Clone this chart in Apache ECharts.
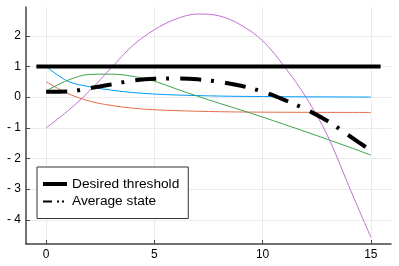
<!DOCTYPE html>
<html>
<head>
<meta charset="utf-8">
<script src="https://cdn.jsdelivr.net/npm/echarts@6/dist/echarts.min.js"></script>
<style>html,body{margin:0;padding:0;background:#fff}#c{width:399px;height:266px}</style>
</head>
<body>
<div id="c"></div>
<script>
var xs = [0,1,2,3,4,5,6,7,8,9,10,11,12,13,14,15];
var blue = [1, 0.52, 0.34, 0.23, 0.15, 0.1, 0.07, 0.05, 0.035, 0.025, 0.02, 0.015, 0.01, 0.008, 0.005, 0.003];
var orange = [0.5, 0.12, -0.13, -0.27, -0.36, -0.41, -0.44, -0.46, -0.475, -0.485, -0.49, -0.493, -0.495, -0.497, -0.498, -0.5];
var green = [0.2, 0.55, 0.74, 0.75, 0.68, 0.52, 0.27, 0.03, -0.2, -0.42, -0.65, -0.89, -1.13, -1.38, -1.63, -1.89];
var purple = [-1, -0.45, 0.2, 0.95, 1.68, 2.2, 2.55, 2.71, 2.65, 2.35, 1.84, 1.0, 0, -1.26, -2.93, -4.57];
var avgState = [0.175, 0.185, 0.29, 0.415, 0.54, 0.60, 0.61, 0.58, 0.50, 0.37, 0.18, -0.09, -0.40, -0.78, -1.26, -1.74];
var thresholdX = [-0.45, 15.45];
var thresholdY = [1, 1];
var xTicks = [0, 5, 10, 15];
var yTicks = [-4, -3, -2, -1, 0, 1, 2];
var legendNames = ['Desired threshold', 'Average state'];

function pairs(x, y) { return x.map(function (v, i) { return [v, y[i]]; }); }

var FONT = '"Liberation Sans", Arial, Helvetica, sans-serif';
var chart = echarts.init(document.getElementById('c'), null, {renderer: 'canvas'});

function thin(name, data, color) {
  return {
    name: name, type: 'line', data: pairs(xs, data), showSymbol: false, symbol: 'none',
    smooth: 0.35, lineStyle: {color: color, width: 1}, silent: true, z: 2
  };
}

var option = {
  animation: false,
  backgroundColor: '#fff',
  grid: {left: 26, right: 8, top: 7, bottom: 22, containLabel: false},
  xAxis: {
    type: 'value', min: -0.93, max: 15.93,
    axisLine: {show: true, onZero: false, lineStyle: {color: '#444', width: 1.5}},
    axisTick: {show: true, inside: true, length: 4, customValues: xTicks, lineStyle: {color: '#444'}},
    axisLabel: {customValues: xTicks, margin: 5, color: '#000', fontSize: 12, fontFamily: FONT},
    splitLine: {show: true, lineStyle: {color: '#ebebeb', width: 1}}
  },
  yAxis: {
    type: 'value', min: -4.79, max: 2.94,
    axisLine: {show: true, onZero: false, lineStyle: {color: '#444', width: 1.5}},
    axisTick: {show: true, inside: true, length: 4, customValues: yTicks, lineStyle: {color: '#444'}},
    axisLabel: {customValues: yTicks, margin: 5, color: '#000', fontSize: 12, fontFamily: FONT,
      formatter: function (v) { return v < 0 ? '- ' + (-v) : String(v); }},
    splitLine: {show: true, lineStyle: {color: '#ebebeb', width: 1}}
  },
  legend: {
    orient: 'vertical', left: 37, top: 167,
    padding: [10, 9, 10, 4], itemGap: 3.5, itemWidth: 24, itemHeight: 14,
    backgroundColor: '#fff', borderColor: '#333', borderWidth: 1, borderRadius: 0,
    textStyle: {color: '#000', fontSize: 13.7, fontFamily: FONT},
    data: [
      {name: legendNames[0], itemStyle: {opacity: 0}, lineStyle: {width: 4, color: '#000', opacity: 1}},
      {name: legendNames[1], itemStyle: {opacity: 0}, lineStyle: {width: 2, color: '#000', opacity: 1, type: [9, 5, 2, 3, 2, 3]}}
    ],
    selectedMode: false
  },
  series: [
    thin('u1', blue, '#009AFA'),
    thin('u2', orange, '#E36F47'),
    thin('u3', green, '#3EA44E'),
    thin('u4', purple, '#C271D2'),
    {
      name: legendNames[0], type: 'line', data: pairs(thresholdX, thresholdY), symbol: 'none', showSymbol: false,
      lineStyle: {color: '#000', width: 4}, itemStyle: {color: '#000'}, z: 3
    },
    {
      name: legendNames[1], type: 'line', data: pairs(xs, avgState), symbol: 'none', showSymbol: false, smooth: 0.35,
      lineStyle: {color: '#000', width: 4, type: [21, 10, 3, 11], cap: 'butt'}, itemStyle: {color: '#000'}, z: 4
    }
  ]
};
chart.setOption(option);
</script>
</body>
</html>
